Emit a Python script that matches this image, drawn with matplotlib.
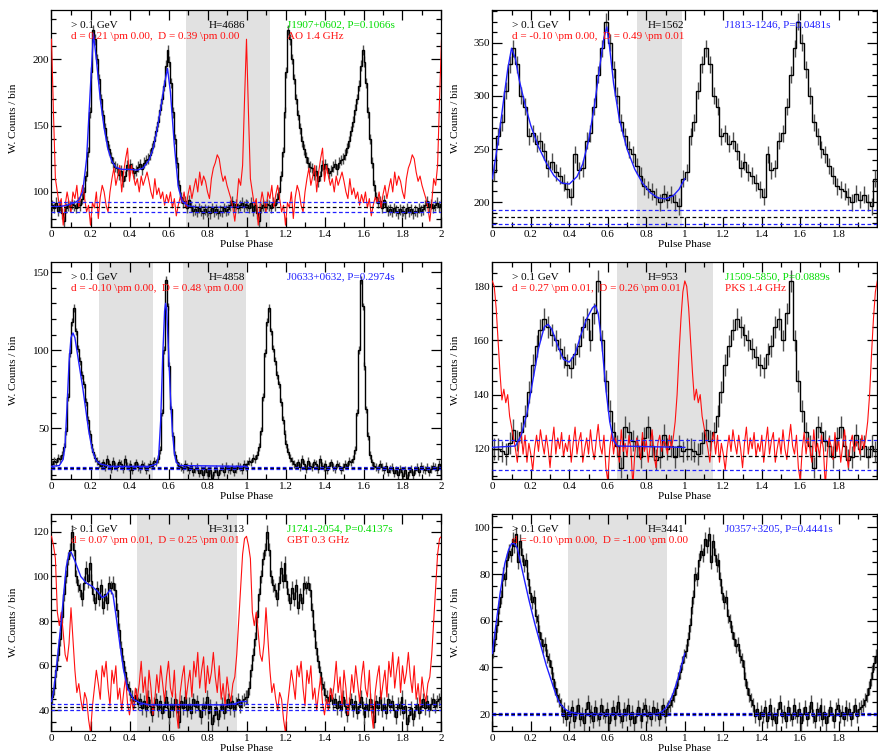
import numpy as np
import matplotlib
matplotlib.use("Agg")
import matplotlib.pyplot as plt
from matplotlib.ticker import MultipleLocator, FuncFormatter

plt.rcParams['font.family'] = ['Liberation Serif', 'DejaVu Serif']
plt.rcParams['font.size'] = 8

# ---------------- Panel 1: J1907+0602 ----------------
p1_counts = [90, 88, 92, 86, 90, 84, 78, 88, 90, 89,
             91, 90, 88, 92, 90, 95, 100, 112, 130, 160,
             190, 222, 215, 200, 185, 170, 158, 148, 138, 132,
             126, 122, 119, 118, 113, 116, 108, 112, 120, 117,
             121, 118, 114, 116, 119, 121, 117, 122, 124, 125,
             128, 133, 138, 146, 153, 162, 170, 180, 195, 207,
             198, 182, 160, 140, 122, 105, 96, 92, 93, 88,
             94, 89, 86, 87, 85, 88, 86, 84, 87, 85,
             86, 84, 88, 85, 87, 84, 86, 85, 88, 86,
             87, 90, 93, 89, 91, 88, 90, 92, 89, 91]
p1_fit_x = [0, 0.04, 0.08, 0.12, 0.14, 0.16, 0.18, 0.20, 0.215, 0.23, 0.25, 0.27, 0.29, 0.31,
            0.33, 0.36, 0.40, 0.44, 0.47, 0.50, 0.52, 0.54, 0.56, 0.58, 0.595, 0.61, 0.63, 0.65,
            0.67, 0.70, 0.75, 1.0]
p1_fit_y = [89, 89, 90, 92, 94, 100, 125, 180, 219, 200, 170, 148, 132, 123,
            118.5, 117, 117, 116.5, 118, 124, 132, 146, 163, 182, 193, 175, 135, 104,
            93, 89.5, 88.5, 88.5]
p1_radio = [215, 160, 110, 100, 90, 95, 75, 90, 100, 92,
            85, 100, 95, 105, 88, 98, 105, 95, 85, 90,
            75, 92, 88, 100, 80, 96, 105, 100, 90, 85,
            100, 110, 118, 105, 112, 120, 100, 115, 125, 133,
            108, 120, 112, 105, 110, 100, 112, 105, 110, 115,
            108, 100, 95, 110, 98, 103, 95, 100, 90, 98,
            92, 100, 88, 95, 82, 90, 96, 92, 100, 88,
            98, 105, 95, 103, 110, 100, 115, 105, 112, 108,
            100, 95, 110, 118, 122, 128, 125, 115, 108, 112,
            105, 100, 95, 88, 78, 92, 110, 105, 120, 170]

# ---------------- Panel 2: J1813-1246 ----------------
p2_counts = [228, 262, 275, 305, 330, 345, 330, 300, 290, 262,
             265, 255, 258, 248, 232, 238, 228, 225, 218, 212,
             205, 245, 230, 232, 258, 265, 290, 320, 345, 370,
             350, 325, 300, 275, 262, 250, 245, 234, 225, 215,
             212, 210, 205, 200, 208, 202, 207, 200, 196, 222]
p2_fit_x = [0, 0.02, 0.04, 0.06, 0.08, 0.10, 0.12, 0.14, 0.17, 0.20, 0.24, 0.28, 0.32, 0.36,
            0.40, 0.44, 0.47, 0.50, 0.53, 0.56, 0.58, 0.595, 0.61, 0.63, 0.66, 0.70, 0.74,
            0.78, 0.82, 0.86, 0.90, 0.94, 0.97, 1.0]
p2_fit_y = [222, 245, 270, 298, 325, 345, 335, 315, 292, 272, 252, 237, 225, 218,
            217, 224, 236, 258, 290, 330, 355, 365, 345, 312, 278, 250, 231,
            218, 209, 204, 203, 206, 212, 222]

# ---------------- Panel 3: J0633+0632 ----------------
p3_counts = [27, 29, 28, 31, 30, 33, 38, 48, 70, 98,
             118, 127, 112, 101, 93, 84, 78, 67, 55, 46,
             40, 35, 31, 29, 27,
             26, 28, 25, 30, 27, 24, 29, 26, 25, 28, 27, 24, 30, 26, 25, 27, 23, 26, 28, 25,
             24, 27, 26, 23, 25, 27, 26, 29,
             28, 30, 36, 60, 100, 145, 128, 90, 62, 45, 33, 28,
             26, 25, 24, 27, 25, 23, 26, 22, 24, 25, 21, 23, 20, 24, 22, 19, 23, 18, 22, 24,
             20, 23, 25, 22, 26, 24, 23, 25, 22, 24, 26, 25, 23, 27, 25]
p3_fit_x = [0, 0.04, 0.06, 0.07, 0.08, 0.09, 0.10, 0.11, 0.12, 0.13, 0.14, 0.15, 0.16, 0.17,
            0.18, 0.19, 0.20, 0.21, 0.22, 0.23, 0.25, 0.30, 0.50, 0.54, 0.55, 0.56, 0.57, 0.58,
            0.585, 0.59, 0.60, 0.61, 0.62, 0.63, 0.64, 0.66, 1.0]
p3_fit_y = [25.5, 26, 30, 40, 65, 92, 108, 111, 108, 100, 92, 84, 76, 67,
            58, 49, 42, 36, 32, 29, 27, 25.5, 25.5, 27, 33, 55, 95, 125,
            130, 127, 100, 70, 48, 34, 28, 26, 25.5]

# ---------------- Panel 4: J1509-5850 ----------------
p4_counts = [120, 120, 119, 118, 122, 127, 123, 126, 132, 141,
             151, 158, 164, 168, 165, 162, 160, 157, 154, 151,
             150, 155, 158, 165, 168, 160, 170, 182, 160, 145,
             134, 126, 121, 113, 128, 126, 123, 121, 117, 124,
             128, 121, 116, 117, 125, 120, 121, 117, 121, 119]
p4_fit_x = [0, 0.12, 0.15, 0.18, 0.21, 0.24, 0.27, 0.29, 0.31, 0.34, 0.37, 0.40, 0.43, 0.46,
            0.49, 0.52, 0.535, 0.55, 0.57, 0.59, 0.61, 0.63, 0.65, 1.0]
p4_fit_y = [120.5, 121, 125, 133, 145, 157, 165, 166, 164, 158, 153, 152, 155, 162,
            168, 172, 173, 170, 158, 142, 130, 123, 121, 120.5]
p4_radio = [182, 180, 172, 160, 148, 138, 142, 137, 140, 132,
            128, 124, 120, 115, 123, 126, 118, 125, 115, 122,
            118, 112, 120, 125, 119, 127, 122, 118, 125, 120,
            113, 122, 128, 118, 124, 120, 126, 117, 122, 119,
            125, 115, 122, 128, 118, 123, 126, 115, 120, 124,
            118, 127, 120, 116, 123, 129, 121, 118, 125, 113,
            108, 120, 126, 118, 124, 120, 115, 127, 119, 122,
            117, 125, 120, 106, 118, 124, 121, 116, 126, 119,
            123, 115, 121, 127, 118, 113, 122, 125, 119, 123,
            122, 118, 125, 120, 124, 130, 140, 155, 168, 178]

# ---------------- Panel 5: J1741-2054 ----------------
p5_counts = [46, 50, 58, 65, 72, 82, 92, 100, 108, 112,
             120, 112, 100, 96, 94, 90, 97, 104, 98, 106,
             98, 92, 88, 95, 90, 96, 86, 92, 88, 97,
             95, 97, 94, 85, 76, 68, 62, 57, 52, 50,
             47, 46, 44, 47, 43,
             45, 41, 44, 40, 46, 42, 38, 43, 45, 40,
             44, 39, 42, 46, 41, 37, 43, 40, 45, 42,
             35, 44, 41, 46, 40, 43, 39, 45, 42, 44,
             40, 37, 43, 41, 46, 39, 42, 34, 38, 41,
             36, 40, 43, 39, 42, 45, 41, 44, 40, 43,
             45, 42,
             44, 45, 46]
p5_fit_x = [0, 0.01, 0.025, 0.05, 0.075, 0.09, 0.10, 0.12, 0.15, 0.18, 0.21, 0.24, 0.26, 0.28,
            0.30, 0.315, 0.33, 0.35, 0.37, 0.39, 0.42, 0.45, 0.50, 0.90, 0.94, 0.97, 1.0]
p5_fit_y = [44, 48, 59, 80, 104, 110.5, 111, 107, 100, 97, 95.5, 93, 90.5, 91.5,
            94, 92, 83, 70, 58, 50, 45, 43.5, 42.5, 42.5, 43, 44, 44]
p5_radio = [118, 114, 108, 84, 78, 84, 75, 65, 62, 70,
            86, 72, 58, 48, 52, 45, 40, 48, 45, 36,
            30, 42, 50, 58, 52, 45, 60, 55, 62, 50,
            42, 58, 52, 60, 45, 50, 40, 48, 55, 43,
            38, 45, 40, 50, 45, 52, 62, 48, 55, 42,
            58, 50, 38, 45, 56, 48, 60, 52, 44, 55,
            62, 50, 46, 58, 40, 32, 48, 55, 60, 45,
            52, 58, 46, 62, 55, 66, 50, 58, 64, 48,
            60, 52, 57, 66, 55, 48, 60, 45, 52, 42,
            55, 48, 44, 52, 55, 65, 80, 95, 110, 117]

# ---------------- Panel 6: J0357+3205 ----------------
p6_counts = [47, 52, 58, 66, 70, 80, 78, 86, 90, 88,
             95, 92, 97, 85, 94, 88, 84, 86, 78, 72,
             68, 70, 62, 60, 55, 52, 49, 50, 45, 43,
             40, 35, 31, 28, 26, 24, 19, 22, 18, 21,
             19, 23, 17, 21, 24, 18, 20, 16, 22, 25,
             19, 21, 17, 23, 20, 18, 24, 21, 19, 22,
             16, 20, 23, 18, 21, 25, 19, 17, 22, 20,
             24, 18, 21, 16, 19, 23, 20, 17, 22, 24,
             19, 21, 18, 23, 20, 22, 18, 21, 24, 19,
             22, 23, 24, 26, 28, 31, 35, 38, 42, 45]
p6_fit_x = [0, 0.02, 0.04, 0.065, 0.085, 0.10, 0.115, 0.13, 0.16, 0.19, 0.22, 0.25, 0.28, 0.30,
            0.33, 0.35, 0.38, 0.40, 0.44, 0.50, 0.85, 0.88, 0.90, 0.92, 0.94, 0.96, 0.98, 1.0]
p6_fit_y = [46, 59, 71.5, 84.5, 90.5, 93, 93, 91, 80, 69, 59, 50, 41, 36,
            28.5, 24.6, 22, 21, 20.3, 20, 20, 21, 22.5, 25, 29, 34, 40, 46]

panels = [
    dict(counts=p1_counts, err=4, fit=(p1_fit_x, p1_fit_y), radio=p1_radio,
         ylim=(74, 237), ymaj=50, ymin=10, shade=[(0.692, 1.12)],
         dashed=[(92.5, 'b'), (88.7, 'k'), (85.0, 'b')],
         H='H=4686', d=r'd = 0.21 \pm 0.00,  D = 0.39 \pm 0.00',
         name='J1907+0602, P=0.1066s', ncol='#00dd00', radio_label='AO 1.4 GHz'),
    dict(counts=p2_counts, err=8, fit=(p2_fit_x, p2_fit_y), radio=None,
         ylim=(177, 381), ymaj=50, ymin=10, shade=[(0.753, 0.988)],
         dashed=[(192.7, 'b'), (185.8, 'k'), (179.2, 'b')],
         H='H=1562', d=r'd = -0.10 \pm 0.00,  D = 0.49 \pm 0.01',
         name='J1813-1246, P=0.0481s', ncol='#2020ff', radio_label=None),
    dict(counts=p3_counts, err=2.5, fit=(p3_fit_x, p3_fit_y), radio=None,
         ylim=(17.7, 156.5), ymaj=50, ymin=10, shade=[(0.243, 0.518), (0.673, 1.0)],
         dashed=[(25.3, 'b'), (24.5, 'k'), (23.8, 'b')],
         H='H=4858', d=r'd = -0.10 \pm 0.00,  D = 0.48 \pm 0.00',
         name='J0633+0632, P=0.2974s', ncol='#2020ff', radio_label=None),
    dict(counts=p4_counts, err=4, fit=(p4_fit_x, p4_fit_y), radio=p4_radio,
         ylim=(109, 189), ymaj=20, ymin=5, shade=[(0.646, 1.144)],
         dashed=[(123.1, 'b'), (117.3, 'k'), (112.1, 'b')],
         H='H=953', d=r'd = 0.27 \pm 0.01,  D = 0.26 \pm 0.01',
         name='J1509-5850, P=0.0889s', ncol='#00dd00', radio_label='PKS 1.4 GHz'),
    dict(counts=p5_counts, err=3, fit=(p5_fit_x, p5_fit_y), radio=p5_radio,
         ylim=(31, 128), ymaj=20, ymin=5, shade=[(0.44, 0.952)],
         dashed=[(42.8, 'b'), (41.5, 'k'), (40.0, 'b')],
         H='H=3113', d=r'd = 0.07 \pm 0.01,  D = 0.25 \pm 0.01',
         name='J1741-2054, P=0.4137s', ncol='#00dd00', radio_label='GBT 0.3 GHz'),
    dict(counts=p6_counts, err=3, fit=(p6_fit_x, p6_fit_y), radio=None,
         ylim=(13, 105.7), ymaj=20, ymin=5, shade=[(0.395, 0.907)],
         dashed=[(20.6, 'b'), (20.2, 'k'), (19.8, 'b')],
         H='H=3441', d=r'd = -0.10 \pm 0.00,  D = -1.00 \pm 0.00',
         name='J0357+3205, P=0.4441s', ncol='#2020ff', radio_label=None),
]

BLUE = '#2020ff'
RED = '#ff1010'
fig = plt.figure(figsize=(8.79, 7.53), dpi=100)
lefts = [51.5, 492.3]
widths = [390.0, 385.0]
tops = [10, 262, 514]
hpx = 216.5

for i, p in enumerate(panels):
    r, c = divmod(i, 2)
    ax = fig.add_axes([lefts[c] / 879, 1 - (tops[r] + hpx) / 753, widths[c] / 879, hpx / 753])
    for (a, b) in p['shade']:
        ax.axvspan(a, b, color='#e1e1e1', lw=0, zorder=0)
    counts = np.asarray(p['counts'], float)
    n = len(counts)
    edges = np.arange(2 * n + 1) / n
    vals = np.tile(counts, 2)
    centers = 0.5 * (edges[:-1] + edges[1:])
    ax.errorbar(centers, vals, yerr=p['err'], fmt='none', ecolor='#505050',
                elinewidth=1.0, capsize=0, zorder=2)
    ax.stairs(vals, edges, color='black', lw=1.0, zorder=2.5)
    if p['radio'] is not None:
        rv = np.asarray(p['radio'], float)
        m = len(rv)
        rx = np.arange(2 * m + 1) / m
        ry = np.append(np.tile(rv, 2), rv[0])
        ax.plot(rx, ry, color=RED, lw=0.8, zorder=3)
    fx, fy = p['fit']
    ax.plot(fx, fy, color=BLUE, lw=1.0, zorder=4)
    for (yv, col) in p['dashed']:
        ax.axhline(yv, color=BLUE if col == 'b' else 'black', lw=0.9,
                   ls=(0, (3, 2)), zorder=5)
    ax.set_xlim(0, 2)
    ax.set_ylim(*p['ylim'])
    ax.xaxis.set_major_locator(MultipleLocator(0.2))
    ax.xaxis.set_minor_locator(MultipleLocator(0.1))
    ax.yaxis.set_major_locator(MultipleLocator(p['ymaj']))
    ax.yaxis.set_minor_locator(MultipleLocator(p['ymin']))
    if c == 1:
        ax.xaxis.set_major_formatter(FuncFormatter(lambda v, pos: '' if v > 1.95 else f'{v:g}'))
    else:
        ax.xaxis.set_major_formatter(FuncFormatter(lambda v, pos: f'{v:g}'))
    ax.tick_params(which='both', direction='in', top=True, right=True, width=0.9, labelsize=8)
    ax.tick_params(which='major', length=7)
    ax.tick_params(which='minor', length=3.5)
    ax.tick_params(axis='y', pad=1.5)
    ax.tick_params(axis='x', pad=2.5)
    for s in ax.spines.values():
        s.set_linewidth(0.9)
    ax.set_xlabel('Pulse Phase', fontsize=8)
    ax.xaxis.set_label_coords(0.5, -0.062)
    ax.set_ylabel('W. Counts / bin', fontsize=8)
    ax.yaxis.set_label_coords(-0.085, 0.5)

    y1, y2 = 0.930, 0.877
    ax.text(0.05, y1, '> 0.1 GeV', transform=ax.transAxes, color='black', va='center', ha='left', zorder=6)
    ax.text(0.05, y2, p['d'], transform=ax.transAxes, color=RED, va='center', ha='left', zorder=6)
    ax.text(0.403, y1, p['H'], transform=ax.transAxes, color='black', va='center', ha='left', zorder=6)
    ax.text(0.605, y1, p['name'], transform=ax.transAxes, color=p['ncol'], va='center', ha='left', zorder=6)
    if p['radio_label']:
        ax.text(0.605, y2, p['radio_label'], transform=ax.transAxes, color=RED, va='center', ha='left', zorder=6)

fig.savefig('out.png', dpi=100)
